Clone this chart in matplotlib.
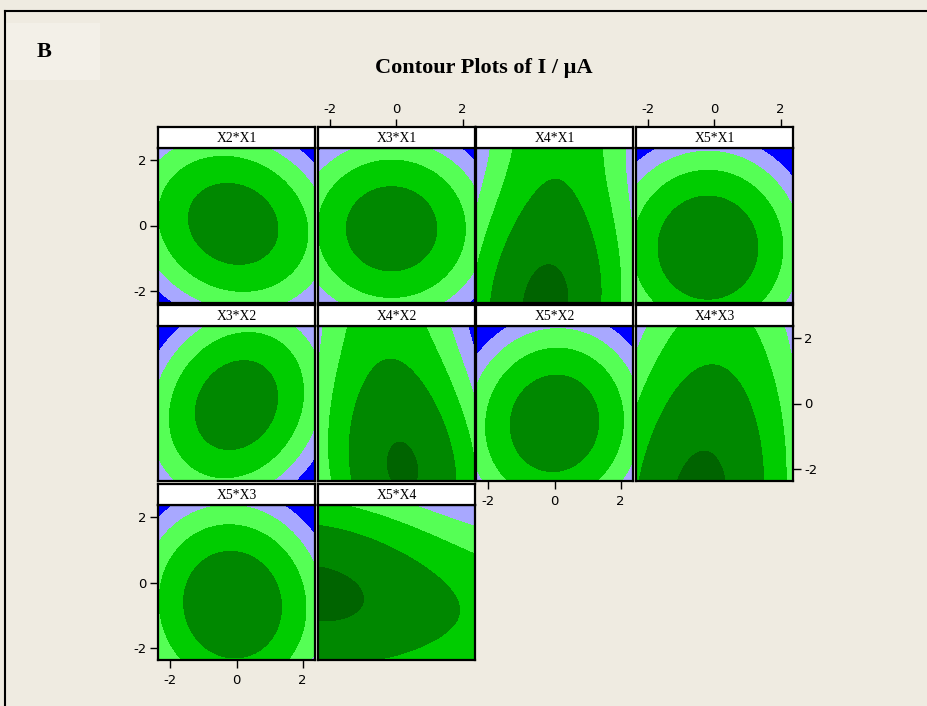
import numpy as np
import matplotlib.pyplot as plt
from matplotlib.lines import Line2D
from matplotlib.patches import Rectangle

# panels of the contour matrix (vertical*horizontal factor)
panel_names = ["X2*X1", "X3*X1", "X4*X1", "X5*X1",
               "X3*X2", "X4*X2", "X5*X2", "X4*X3",
               "X5*X3", "X5*X4"]
panel_row = [0, 0, 0, 0, 1, 1, 1, 1, 2, 2]
panel_col = [0, 1, 2, 3, 0, 1, 2, 3, 0, 1]

# fitted response of each panel, other factors held at 0:
# I = b0 + bu*u + bv*v + buu*u^2 + bvv*v^2 + buv*u*v + buuu*u^3 + bvvv*v^3
b0 = [3.556, 3.589, 3.547, 3.638, 3.599, 3.609, 3.580, 3.509, 3.654, 3.596]
bu = [-0.0575, -0.096, -0.0731, -0.140, 0.0065, -0.030, 0.018, -0.119, -0.108, -0.3845]
bv = [0.028, -0.072, -0.411, -0.435, -0.0333, -0.418, -0.390, -0.387, -0.412, -0.335]
buu = [-0.310, -0.320, -0.430, -0.350, -0.400, -0.430, -0.390, -0.330, -0.365, -0.0368]
bvv = [-0.370, -0.360, -0.0126, -0.320, -0.333, -0.0553, -0.320, -0.0428, -0.300, -0.270]
buv = [-0.090, 0.000, 0.0668, 0.000, 0.130, -0.0955, 0.030, 0.061, -0.030, -0.0637]
buuu = [0, 0, 0, 0, 0, 0, 0, 0, 0, 0.0115]
bvvv = [0, 0, 0.0216, 0, 0, 0.019, 0, 0.005, 0, 0]

levels = [0, 1, 2, 3, 4]
band_colors = ["#0000ff", "#a8a8ff", "#55ff55", "#00cc00", "#008800", "#006400"]

ticks = [-2, 0, 2]
lim = 2.378

W, H = 928, 706
bg = "#efebe1"
col_left = [158, 318, 476, 636]
row_top = [127, 305, 484]
pw, ph, hh = 157, 155, 21


def box(x, y, w, h):
    return [x / W, 1 - (y + h) / H, w / W, h / H]


plt.rcParams['font.family'] = 'DejaVu Sans'
plt.rcParams['axes.unicode_minus'] = False
fig = plt.figure(figsize=(W / 100, H / 100), dpi=100, facecolor=bg)

# light square behind the panel letter
fig.add_artist(Rectangle((6 / W, 1 - 80 / H), 94 / W, 57 / H,
                         transform=fig.transFigure, facecolor="#f3f0e8",
                         edgecolor="none"))
fig.add_artist(Line2D([5 / W, 5 / W], [0, 1 - 11 / H], color="k", lw=1.5))
fig.add_artist(Line2D([5 / W, 1], [1 - 11 / H, 1 - 11 / H], color="k", lw=1.5))

fig.text(44 / W, 1 - 52 / H, "B", ha="center", va="center", fontsize=16,
         fontweight="bold", family="Liberation Serif")
fig.text(484 / W, 1 - 68 / H, "Contour Plots of I / µA", ha="center",
         va="center", fontsize=16, fontweight="bold", family="Liberation Serif")

g = np.linspace(-lim, lim, 241)
U, V = np.meshgrid(g, g)

for i, name in enumerate(panel_names):
    r, c = panel_row[i], panel_col[i]
    x0, y0 = col_left[c], row_top[r]
    Z = (b0[i] + bu[i] * U + bv[i] * V + buu[i] * U ** 2 + bvv[i] * V ** 2
         + buv[i] * U * V + buuu[i] * U ** 3 + bvvv[i] * V ** 3)

    ax = fig.add_axes(box(x0, y0 + hh, pw, ph))
    ax.contourf(U, V, Z, levels=[-50] + levels + [50], colors=band_colors)
    ax.set_xlim(-lim, lim)
    ax.set_ylim(-lim, lim)
    for s in ax.spines.values():
        s.set_linewidth(1.6)
    ax.set_xticks([])
    ax.set_yticks([])

    hx = fig.add_axes(box(x0, y0, pw, hh))
    hx.set_facecolor("white")
    hx.set_xlim(-lim, lim)
    hx.set_yticks([])
    hx.set_xticks([])
    for s in hx.spines.values():
        s.set_linewidth(1.6)
    hx.text(0, 0.45, name, ha="center", va="center", fontsize=9.8,
            family="Liberation Serif", transform=hx.get_xaxis_transform())

    tick_kw = dict(length=6, width=1, labelsize=9.5, colors="k", pad=2)
    if r == 0 and c in (1, 3):
        hx.set_xticks(ticks)
        hx.xaxis.tick_top()
        hx.tick_params(axis="x", **tick_kw)
    if c == 0 and r in (0, 2):
        ax.set_yticks(ticks)
        ax.tick_params(axis="y", **tick_kw)
    if r == 1 and c == 3:
        ax.set_yticks(ticks)
        ax.yaxis.tick_right()
        ax.tick_params(axis="y", **tick_kw)
    if (r == 2 and c == 0) or (r == 1 and c == 2):
        ax.set_xticks(ticks)
        ax.tick_params(axis="x", **dict(tick_kw, pad=4))

fig.savefig("out.png", dpi=100, facecolor=bg)
